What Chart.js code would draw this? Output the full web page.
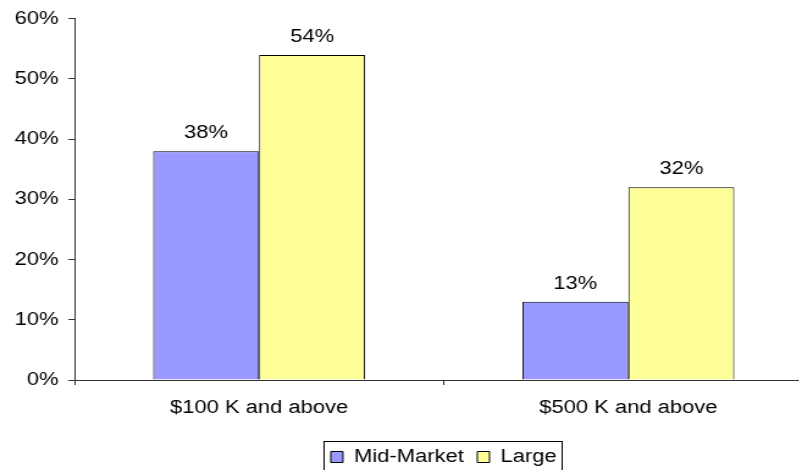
<!DOCTYPE html>
<html>
<head>
<meta charset="utf-8">
<script src="https://cdn.jsdelivr.net/npm/chart.js@4.4.0/dist/chart.umd.min.js"></script>
<style>
  body { margin: 0; background: #fff; }
  #wrap { width: 799px; height: 470px; overflow: hidden; }
  /* the whole drawing is widened a little, text included */
  #chart { transform: scaleX(1.2207); transform-origin: 0 0; }
</style>
</head>
<body>
<div id="wrap">
  <canvas id="chart" width="666" height="470" style="width:666px;height:470px"></canvas>
</div>
<script>
const categories = ["$100 K and above", "$500 K and above"];
const midMarket = [38, 13];
const large = [54, 32];
const yMax = 60;
const yStep = 10;

const font = { family: "'Liberation Sans', Arial, sans-serif", size: 18 };

// percentage labels sitting above each bar
const valueLabels = {
  id: "valueLabels",
  afterDatasetsDraw(chart) {
    const ctx = chart.ctx;
    ctx.save();
    ctx.font = "18px 'Liberation Sans', Arial, sans-serif";
    ctx.fillStyle = "#000";
    ctx.textAlign = "center";
    ctx.textBaseline = "alphabetic";
    chart.data.datasets.forEach((ds, i) => {
      chart.getDatasetMeta(i).data.forEach((bar, j) => {
        ctx.fillText(ds.data[j] + "%", bar.x, bar.y - 13);
      });
    });
    ctx.restore();
  },
};

// thin frame round the legend
const legendFrame = {
  id: "legendFrame",
  afterDraw(chart) {
    const boxes = chart.legend && chart.legend.legendHitBoxes;
    if (!boxes || !boxes.length) return;
    const left = Math.min(...boxes.map((b) => b.left)) - 6;
    const right = Math.max(...boxes.map((b) => b.left + b.width)) + 4;
    const top = boxes[0].top - 7;
    const bottom = boxes[0].top + boxes[0].height + 4;
    const ctx = chart.ctx;
    ctx.save();
    ctx.strokeStyle = "#000";
    ctx.lineWidth = 1;
    ctx.strokeRect(Math.round(left) + 0.5, Math.round(top) + 0.5, Math.round(right - left), Math.round(bottom - top));
    ctx.restore();
  },
};

new Chart(document.getElementById("chart"), {
  type: "bar",
  data: {
    labels: categories,
    datasets: [
      {
        label: "Mid-Market",
        data: midMarket,
        backgroundColor: "#9999FF",
        borderColor: "#000",
        borderWidth: 1,
        categoryPercentage: 0.574,
        barPercentage: 1,
      },
      {
        label: "Large",
        data: large,
        backgroundColor: "#FFFF99",
        borderColor: "#000",
        borderWidth: 1,
        categoryPercentage: 0.574,
        barPercentage: 1,
      },
    ],
  },
  options: {
    responsive: false,
    animation: false,
    layout: { padding: { left: 0, top: 11, right: 0, bottom: -6 } },
    scales: {
      x: {
        afterFit: (scale) => { scale.height = 57; },
        grid: { drawOnChartArea: false, tickLength: 5, color: "#333" },
        border: { color: "#333" },
        ticks: { font: font, color: "#000", padding: 12, maxRotation: 0 },
      },
      y: {
        min: 0,
        max: yMax,
        afterFit: (scale) => { scale.width = 61; },
        grid: { drawOnChartArea: false, tickLength: 5, color: "#333" },
        border: { color: "#333" },
        ticks: {
          stepSize: yStep,
          font: font,
          color: "#000",
          padding: 8,
          callback: (v) => v + "%",
        },
      },
    },
    plugins: {
      tooltip: { enabled: false },
      legend: {
        position: "bottom",
        fullSize: false,
        labels: {
          font: font,
          color: "#000",
          boxWidth: 10,
          boxHeight: 11,
          padding: 11,
        },
      },
    },
  },
  plugins: [valueLabels, legendFrame],
});
</script>
</body>
</html>
